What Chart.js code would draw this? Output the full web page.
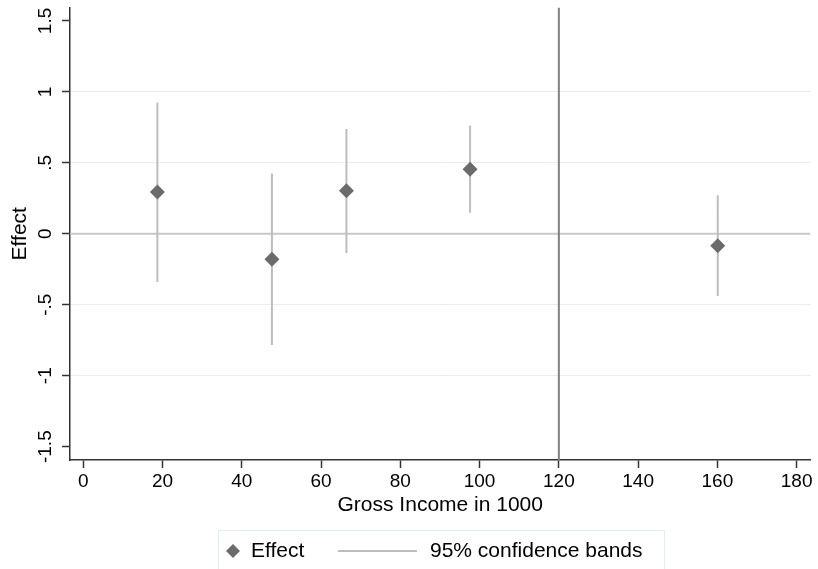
<!DOCTYPE html>
<html>
<head>
<meta charset="utf-8">
<script src="https://cdn.jsdelivr.net/npm/chart.js@4.4.1/dist/chart.umd.min.js"></script>
<style>
  html, body { margin: 0; padding: 0; background: #fff; }
  canvas { display: block; }
</style>
</head>
<body>
<canvas id="c" width="818" height="569"></canvas>
<script>
// values
const incomes = [18.7, 47.6, 66.4, 97.6, 160.1];
const effects = [0.294, -0.18, 0.303, 0.455, -0.084];
const ciLow = [-0.34, -0.783, -0.135, 0.149, -0.438];
const ciHigh = [0.925, 0.425, 0.739, 0.764, 0.271];

const xTicks = [0, 20, 40, 60, 80, 100, 120, 140, 160, 180];
const yTicks = [-1.5, -1, -0.5, 0, 0.5, 1, 1.5];
const yTickLabels = ["-1.5", "-1", "-.5", "0", ".5", "1", "1.5"];
const cutoff = 120;

const xMin = -3.35, xMax = 183.5;
const yMin = -1.594, yMax = 1.595;

const FONT = "'Liberation Sans', Arial, sans-serif";
const markerColor = "#6b6b6b";
const ciColor = "#bdbdbd";

const effectPts = incomes.map((x, i) => ({ x: x, y: effects[i] }));
const ciPts = [];
incomes.forEach((x, i) => {
  ciPts.push({ x: x, y: ciLow[i] });
  ciPts.push({ x: x, y: ciHigh[i] });
  ciPts.push({ x: x, y: null });
});

// legend drawn under the plot, Stata style
const legendBox = {
  id: "legendBox",
  afterDraw(chart) {
    const ctx = chart.ctx;
    ctx.save();
    ctx.strokeStyle = "#e3ecee";
    ctx.lineWidth = 1;
    ctx.strokeRect(218.5, 530.5, 446, 60);

    // diamond
    const cx = 233, cy = 551, r = 7;
    ctx.fillStyle = markerColor;
    ctx.beginPath();
    ctx.moveTo(cx, cy - r);
    ctx.lineTo(cx + r, cy);
    ctx.lineTo(cx, cy + r);
    ctx.lineTo(cx - r, cy);
    ctx.closePath();
    ctx.fill();

    ctx.strokeStyle = ciColor;
    ctx.lineWidth = 2;
    ctx.beginPath();
    ctx.moveTo(338, cy);
    ctx.lineTo(417, cy);
    ctx.stroke();

    ctx.fillStyle = "#000";
    ctx.font = "21px " + FONT;
    ctx.textBaseline = "middle";
    ctx.textAlign = "left";
    ctx.fillText("Effect", 251, cy);
    ctx.fillText("95% confidence bands", 430, cy);
    ctx.restore();
  }
};

new Chart(document.getElementById("c"), {
  type: "scatter",
  data: {
    datasets: [
      {
        label: "Effect",
        data: effectPts,
        pointStyle: "rectRot",
        pointRadius: 7.5,
        backgroundColor: markerColor,
        borderColor: markerColor,
        borderWidth: 0,
        order: 0
      },
      {
        label: "95% confidence bands",
        data: ciPts,
        showLine: true,
        spanGaps: false,
        borderColor: ciColor,
        borderWidth: 2,
        pointRadius: 0,
        order: 1
      },
      {
        label: "cutoff",
        data: [{ x: cutoff, y: yMin }, { x: cutoff, y: yMax }],
        showLine: true,
        borderColor: "#808080",
        borderWidth: 2,
        pointRadius: 0,
        order: 2
      },
      {
        label: "zero",
        data: [{ x: xMin, y: 0 }, { x: xMax, y: 0 }],
        showLine: true,
        borderColor: "#c8c8c8",
        borderWidth: 2,
        pointRadius: 0,
        order: 3
      }
    ]
  },
  options: {
    responsive: false,
    animation: false,
    devicePixelRatio: 1,
    layout: { padding: { left: 0, top: 4, right: 6, bottom: 0 } },
    plugins: {
      legend: { display: false },
      tooltip: { enabled: false }
    },
    scales: {
      x: {
        type: "linear",
        min: xMin,
        max: xMax,
        afterBuildTicks: s => { s.ticks = xTicks.map(v => ({ value: v })); },
        afterFit: s => { s.height = 109; s.paddingLeft = 0; s.paddingRight = 0; },
        border: { display: true, color: "#333", width: 1.5 },
        grid: { drawOnChartArea: false, drawTicks: true, tickLength: 8, tickColor: "#333", tickWidth: 1.5 },
        ticks: {
          padding: 2,
          color: "#000",
          font: { family: FONT, size: 19 },
          maxRotation: 0,
          autoSkip: false
        },
        title: {
          display: true,
          text: "Gross Income in 1000",
          color: "#000",
          font: { family: FONT, size: 21 },
          padding: { top: 0, bottom: 51 }
        }
      },
      y: {
        type: "linear",
        min: yMin,
        max: yMax,
        afterBuildTicks: s => { s.ticks = yTicks.map(v => ({ value: v })); },
        afterFit: s => { s.width = 70; s.paddingTop = 0; s.paddingBottom = 0; },
        border: { display: true, color: "#333", width: 1.5 },
        grid: {
          drawTicks: true,
          tickLength: 8,
          tickColor: "#333",
          tickWidth: 1.5,
          lineWidth: 1,
          color: c => {
            const v = c.tick ? c.tick.value : 0;
            return (v === 0 || Math.abs(v) >= 1.5) ? "rgba(0,0,0,0)" : "#e6eef0";
          }
        },
        ticks: {
          padding: 0,
          color: "#000",
          font: { family: FONT, size: 19 },
          minRotation: 90,
          maxRotation: 90,
          crossAlign: "center",
          autoSkip: false,
          callback: (v) => {
            const i = yTicks.indexOf(v);
            return i >= 0 ? yTickLabels[i] : "";
          }
        },
        title: {
          display: true,
          text: "Effect",
          color: "#000",
          font: { family: FONT, size: 21 },
          padding: { top: 8, bottom: 0 }
        }
      }
    }
  },
  plugins: [legendBox]
});
</script>
</body>
</html>
